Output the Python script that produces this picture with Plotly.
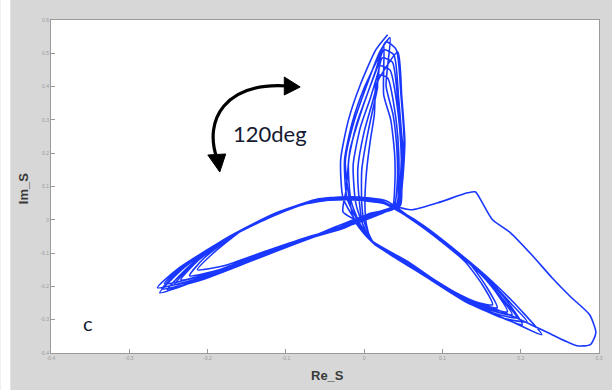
import plotly.graph_objects as go

# ---- data (Re_S, Im_S), one list pair per loop ----
loop1_re = [0.030, 0.015, -0.005, -0.020, -0.030, -0.027, -0.010,
            0.011, 0.069, 0.126, 0.176, 0.208, 0.189, 0.157, 0.113, 0.069,
            0.024, -0.020,
            -0.071, -0.122, -0.179, -0.230, -0.261, -0.211, -0.147, -0.084,
            -0.033, 0.008, 0.043, 0.047, 0.051, 0.047, 0.041]
loop1_im = [0.556, 0.511, 0.405, 0.300, 0.180, 0.066, -0.006,
            -0.069, -0.156, -0.240, -0.294, -0.306, -0.255, -0.174, -0.084, -0.006,
            0.051, 0.063,
            0.051, 0.006, -0.060, -0.144, -0.219, -0.180, -0.126, -0.069,
            -0.024, 0.015, 0.045, 0.120, 0.240, 0.375, 0.511]

loop2_re = [0.028, 0.018, 0.000, -0.015, -0.025, -0.022, -0.008,
            0.010, 0.066, 0.119, 0.168, 0.195, 0.180, 0.151, 0.109, 0.066,
            0.027, -0.018,
            -0.069, -0.119, -0.175, -0.223, -0.251, -0.204, -0.145, -0.081,
            -0.030, 0.010, 0.041, 0.046, 0.048, 0.044, 0.038]
loop2_im = [0.535, 0.486, 0.396, 0.294, 0.180, 0.066, -0.003,
            -0.066, -0.150, -0.231, -0.282, -0.294, -0.246, -0.168, -0.078, -0.003,
            0.048, 0.060,
            0.054, 0.012, -0.054, -0.138, -0.210, -0.171, -0.120, -0.063,
            -0.021, 0.018, 0.045, 0.114, 0.234, 0.366, 0.495]

loop3_re = [0.025, 0.018, 0.005, -0.010, -0.020, -0.017, -0.006,
            0.015, 0.075, 0.132, 0.189, 0.227, 0.202, 0.164, 0.119, 0.071,
            0.030, -0.015,
            -0.065, -0.115, -0.170, -0.217, -0.242, -0.198, -0.141, -0.077,
            -0.028, 0.006, 0.046, 0.048, 0.049, 0.043, 0.036]
loop3_im = [0.511, 0.465, 0.384, 0.285, 0.174, 0.060, -0.009,
            -0.075, -0.165, -0.249, -0.306, -0.345, -0.276, -0.186, -0.096, -0.012,
            0.045, 0.066,
            0.057, 0.018, -0.048, -0.129, -0.195, -0.165, -0.114, -0.060,
            -0.027, 0.009, 0.042, 0.111, 0.225, 0.360, 0.474]

loop4_re = [0.023, 0.018, 0.008, -0.005, -0.014, -0.011, -0.004,
            0.009, 0.062, 0.113, 0.157, 0.183, 0.168, 0.142, 0.107, 0.066,
            0.020, -0.022,
            -0.062, -0.112, -0.165, -0.211, -0.234, -0.192, -0.137, -0.076,
            -0.029, 0.009, 0.043, 0.047, 0.047, 0.042, 0.033]
loop4_im = [0.486, 0.444, 0.366, 0.276, 0.165, 0.054, 0.000,
            -0.063, -0.138, -0.216, -0.264, -0.276, -0.216, -0.144, -0.075, -0.006,
            0.054, 0.069,
            0.060, 0.021, -0.042, -0.120, -0.180, -0.156, -0.108, -0.057,
            -0.024, 0.012, 0.039, 0.105, 0.216, 0.345, 0.450]

loop5_re = [0.020, 0.018, 0.010, 0.000, -0.008, -0.006, -0.002,
            0.008, 0.058, 0.107, 0.147, 0.170, 0.157, 0.135, 0.102, 0.063,
            0.022, -0.025,
            -0.074, -0.124, -0.183, -0.236, -0.264, -0.213, -0.150, -0.084,
            -0.030, 0.006, 0.041, 0.044, 0.044, 0.039, 0.030]
loop5_im = [0.462, 0.420, 0.348, 0.264, 0.156, 0.051, -0.012,
            -0.060, -0.132, -0.207, -0.252, -0.264, -0.204, -0.132, -0.069, -0.003,
            0.057, 0.063,
            0.048, 0.003, -0.066, -0.144, -0.204, -0.177, -0.126, -0.069,
            -0.021, 0.018, 0.039, 0.102, 0.210, 0.330, 0.426]

loop6_re = [0.018, 0.017, 0.011, 0.004, -0.003, -0.003, 0.000,
            0.013, 0.069, 0.122, 0.173, 0.202, 0.183, 0.155, 0.114, 0.069,
            0.026, -0.016,
            -0.061, -0.109, -0.160, -0.204, -0.223, -0.185, -0.132, -0.074,
            -0.029, 0.010, 0.038, 0.042, 0.042, 0.037, 0.028]
loop6_im = [0.435, 0.396, 0.330, 0.252, 0.150, 0.048, -0.006,
            -0.072, -0.150, -0.234, -0.291, -0.315, -0.246, -0.174, -0.090, -0.009,
            0.048, 0.066,
            0.060, 0.024, -0.036, -0.114, -0.168, -0.150, -0.102, -0.054,
            -0.024, 0.012, 0.039, 0.099, 0.204, 0.315, 0.402]

loop7_re = [0.033, 0.020, 0.003, -0.013, -0.024, -0.019, -0.012,
            0.006, 0.056, 0.103, 0.142, 0.164, 0.151, 0.129, 0.099, 0.061,
            0.025, -0.020,
            -0.069, -0.119, -0.175, -0.226, -0.255, -0.207, -0.145, -0.080,
            -0.033, 0.004, 0.044, 0.049, 0.052, 0.048, 0.043]
loop7_im = [0.547, 0.504, 0.402, 0.294, 0.177, 0.063, -0.003,
            -0.057, -0.126, -0.201, -0.246, -0.255, -0.195, -0.126, -0.066, 0.000,
            0.051, 0.060,
            0.054, 0.012, -0.054, -0.132, -0.192, -0.168, -0.117, -0.063,
            -0.018, 0.015, 0.042, 0.114, 0.234, 0.372, 0.504]

loop8_re = [0.015, 0.014, 0.013, 0.008, 0.003, 0.001, 0.003,
            0.011, 0.066, 0.117, 0.164, 0.189, 0.173, 0.147, 0.109, 0.066,
            0.028, -0.013,
            -0.058, -0.105, -0.155, -0.195, -0.213, -0.179, -0.128, -0.071,
            -0.028, 0.012, 0.036, 0.039, 0.039, 0.034, 0.025]
loop8_im = [0.405, 0.372, 0.315, 0.240, 0.144, 0.045, -0.015,
            -0.069, -0.144, -0.225, -0.273, -0.285, -0.228, -0.159, -0.081, -0.006,
            0.057, 0.069,
            0.063, 0.027, -0.030, -0.105, -0.150, -0.138, -0.096, -0.051,
            -0.024, 0.009, 0.036, 0.096, 0.195, 0.300, 0.375]

# last loop: the single large excursion to the lower right
outer_re = [0.025, 0.015, -0.003, -0.018, -0.023, -0.027, -0.008,
            0.011, 0.069, 0.126, 0.170, 0.208, 0.240, 0.272, 0.289, 0.296, 0.288, 0.265,
            0.240, 0.214, 0.187, 0.164, 0.151, 0.142, 0.132, 0.094, 0.060, 0.018, -0.020,
            -0.065, -0.115, -0.173, -0.226, -0.258, -0.211, -0.147, -0.077, -0.030]
outer_im = [0.526, 0.450, 0.330, 0.210, 0.090, 0.024, -0.006,
            -0.069, -0.150, -0.231, -0.270, -0.309, -0.345, -0.378, -0.375, -0.339, -0.285, -0.234,
            -0.174, -0.105, -0.039, 0.000, 0.051, 0.084, 0.081, 0.051, 0.030, 0.054, 0.063,
            0.057, 0.018, -0.054, -0.135, -0.207, -0.183, -0.126, -0.060, -0.024]

x_ticks = [-0.4, -0.3, -0.2, -0.1, 0, 0.1, 0.2, 0.3]
y_ticks = [-0.4, -0.3, -0.2, -0.1, 0, 0.1, 0.2, 0.3, 0.4, 0.5, 0.6]

re_all = (loop1_re + loop2_re + loop3_re + loop4_re + loop5_re + loop6_re + loop7_re
          + loop8_re + outer_re)
im_all = (loop1_im + loop2_im + loop3_im + loop4_im + loop5_im + loop6_im + loop7_im
          + loop8_im + outer_im)

# ---- layout geometry (pixels) ----
W, H = 612, 390
L, R, T, B = 51, 9, 20, 37
PW, PH = W - L - R, H - T - B


def px(xp):
    return (xp - L) / PW


def py(yp):
    return (H - B - yp) / PH


fig = go.Figure()
fig.add_trace(go.Scatter(x=re_all, y=im_all, mode="lines",
                         line=dict(color="rgb(25,55,255)", width=1.6, shape="spline",
                                   smoothing=0.6),
                         hoverinfo="skip", showlegend=False))


def fmt(v):
    return "0" if abs(v) < 1e-9 else ("%g" % v)


axis_common = dict(showgrid=False, zeroline=False, showline=True, mirror=True,
                   linecolor="#9a9a9a", linewidth=1, ticks="inside", ticklen=4,
                   tickcolor="#9a9a9a", tickfont=dict(size=5, color="#9a9a9a",
                                                      family="Liberation Sans"))
fig.update_xaxes(range=[-0.4, 0.3], tickvals=x_ticks, ticktext=[fmt(v) for v in x_ticks],
                 **axis_common)
fig.update_yaxes(range=[-0.4, 0.6], tickvals=y_ticks, ticktext=[fmt(v) for v in y_ticks],
                 **axis_common)


def P(x, y):
    return "%.4f,%.4f" % (px(x), py(y))


arc = "M " + P(218, 158) + " C " + P(205, 120) + " " + P(226, 82) + " " + P(289, 86)
shapes = [
    dict(type="rect", xref="paper", yref="paper", x0=px(0), x1=px(10), y0=py(H), y1=py(0),
         fillcolor="white", line=dict(width=0), layer="below"),
    dict(type="path", xref="paper", yref="paper", path=arc,
         line=dict(color="black", width=3.2)),
    dict(type="path", xref="paper", yref="paper",
         path="M " + P(286, 77) + " L " + P(302, 87) + " L " + P(286, 95) + " Z",
         fillcolor="black", line=dict(color="black", width=1)),
    dict(type="path", xref="paper", yref="paper",
         path="M " + P(209, 155) + " L " + P(221, 172) + " L " + P(227, 154) + " Z",
         fillcolor="black", line=dict(color="black", width=1)),
]

annotations = [
    dict(text="120deg", x=px(272), y=py(133), xref="paper", yref="paper", showarrow=False,
         xanchor="center", yanchor="middle",
         font=dict(family="Lato", size=22, color="#151a30")),
    dict(text="c", x=px(88), y=py(323), xref="paper", yref="paper", showarrow=False,
         xanchor="center", yanchor="middle",
         font=dict(family="Lato", size=20, color="#151a30")),
    dict(text="<b>Re_S</b>", x=px(330), y=py(376), xref="paper", yref="paper",
         showarrow=False, xanchor="center", yanchor="middle",
         font=dict(family="Liberation Sans", size=13, color="#3a3a3a")),
    dict(text="<b>Im_S</b>", x=px(23), y=py(189), xref="paper", yref="paper",
         showarrow=False, textangle=-90, xanchor="center", yanchor="middle",
         font=dict(family="Liberation Sans", size=13, color="#3a3a3a")),
]

fig.update_layout(width=W, height=H, margin=dict(l=L, r=R, t=T, b=B, pad=0),
                  paper_bgcolor="#d7d7d7", plot_bgcolor="white",
                  shapes=shapes, annotations=annotations)

fig.write_html("out.html")
